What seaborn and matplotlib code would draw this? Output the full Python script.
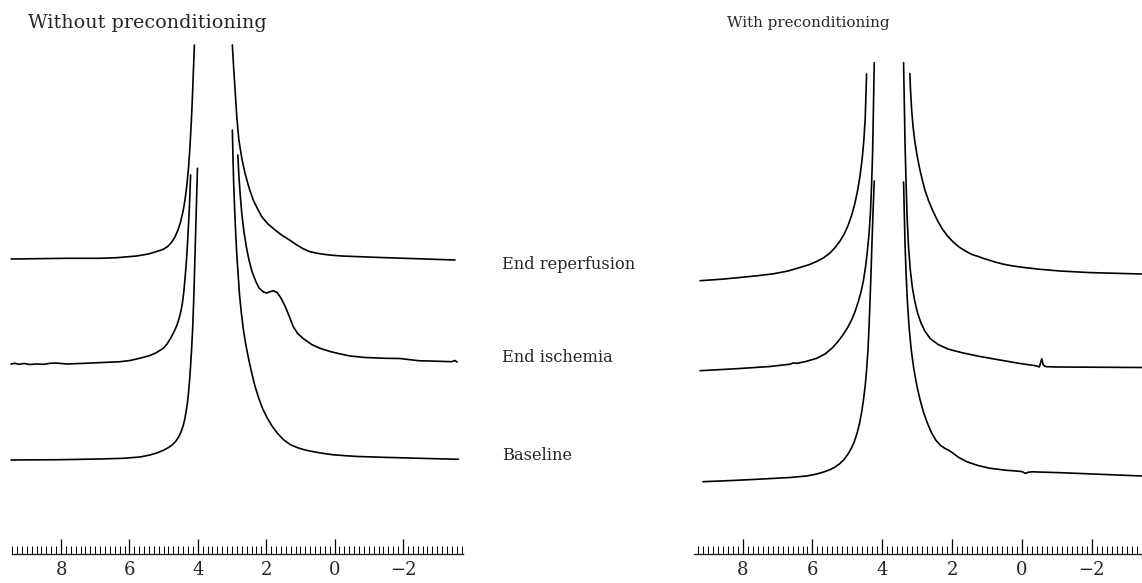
import numpy as np
import pandas as pd
import matplotlib
matplotlib.use("Agg")
import matplotlib.pyplot as plt
from matplotlib.ticker import MultipleLocator
import seaborn as sns

# --- 1H spectra (ppm vs intensity, a.u.), water line truncated at the top ---
# Each trace is stored as two flanks: downfield side (left) and upfield side (right).

# Without preconditioning
wo_reperf_left_ppm = [9.46, 7.83, 6.86, 6.37, 5.79, 5.45, 5.20, 5.01, 4.88, 4.77, 4.67, 4.58, 4.50, 4.43,
                      4.37, 4.32, 4.27, 4.23, 4.19, 4.16, 4.13, 4.10]
wo_reperf_left_int = [0, 0.7, 0.7, 1.3, 3, 5, 7.5, 9.7, 12.5, 16.5, 22, 29, 37.5, 48,
                      60, 74, 92, 112, 137, 160, 187, 214]
wo_reperf_right_ppm = [2.99, 2.95, 2.91, 2.86, 2.80, 2.71, 2.62, 2.50, 2.38, 2.25, 2.13, 1.95, 1.74, 1.55, 1.35,
                       1.10, 0.92, 0.75, 0.55, 0.38, 0.10, -0.21, -1.18, -3.52]
wo_reperf_right_int = [214, 190, 169, 142, 119, 100, 85.7, 71, 59, 50, 42.3, 35, 29, 24, 19.7,
                       13.9, 10.3, 7.6, 6, 5, 3.8, 3, 1.7, -1]

wo_isch_left_ppm = [9.46, 9.35, 9.23, 9.08, 8.91, 8.73, 8.50, 8.32, 8.15, 7.83, 7.30, 6.66, 6.27, 5.98, 5.79,
                    5.59, 5.40, 5.25, 5.11, 5.01, 4.90, 4.79, 4.70, 4.62, 4.56, 4.50, 4.45, 4.41, 4.37,
                    4.34, 4.31, 4.28, 4.25, 4.23, 4.21]
wo_isch_left_int = [-1, -0.3, -1.3, -0.5, -1.5, -1, -1.3, -0.3, 0, -1, -0.3, 0.7, 1.3, 2.5, 4,
                    5.7, 7.5, 9.7, 12.5, 14.7, 19, 25, 31, 37, 43, 51, 60, 71, 86,
                    99, 114, 133, 153, 170, 188]
wo_isch_right_ppm = [2.83, 2.80, 2.76, 2.71, 2.65, 2.58, 2.51, 2.42, 2.31, 2.21, 2.08, 1.99, 1.89, 1.79, 1.68,
                     1.57, 1.45, 1.33, 1.21, 1.08, 0.92, 0.67, 0.43, 0.13, -0.11, -0.45, -0.89, -1.47, -1.91,
                     -2.45, -3.08, -3.42, -3.52, -3.58]
wo_isch_right_int = [208, 188, 168, 148, 131, 116, 104, 92, 82, 75, 71, 70, 71.3, 72.2, 70.5,
                     65, 57, 47, 36.3, 29.5, 24.5, 18.5, 14.7, 11.5, 9.5, 7, 5.5, 4.7, 4.5,
                     2.3, 1.7, 1.3, 2.5, 1]

wo_base_left_ppm = [9.46, 8.03, 6.90, 6.18, 5.69, 5.40, 5.20, 5.02, 4.88, 4.75, 4.65, 4.56, 4.49, 4.43,
                    4.38, 4.34, 4.30, 4.27, 4.24, 4.21, 4.18, 4.15, 4.12, 4.09, 4.06, 4.03, 4.01]
wo_base_left_int = [0, 0.3, 1.0, 1.7, 3, 5, 7, 9.5, 12, 15, 18.5, 23, 28, 34,
                    41, 49, 58, 68, 80, 95, 112, 132, 160, 195, 232, 268, 291.7]
wo_base_right_ppm = [2.99, 2.97, 2.95, 2.92, 2.89, 2.86, 2.82, 2.78, 2.73, 2.67, 2.60, 2.52, 2.43, 2.33, 2.22,
                     2.10, 1.97, 1.83, 1.68, 1.50, 1.30, 1.10, 0.92, 0.70, 0.49, 0.25, 0.04, -0.35, -0.69,
                     -1.42, -2.50, -3.62]
wo_base_right_int = [330, 300, 275, 248, 225, 205, 185, 165, 148, 131, 116, 102, 88, 74, 62,
                     51, 42, 34, 27, 20.5, 15.5, 12.5, 10.5, 8.8, 7.5, 6.2, 5.2, 4.2, 3.5,
                     2.7, 1.7, 0.7]

# With preconditioning
w_reperf_left_ppm = [9.22, 8.60, 8.08, 7.60, 7.12, 6.70, 6.36, 6.10, 5.88, 5.68, 5.50, 5.35, 5.21, 5.09,
                     4.98, 4.88, 4.79, 4.71, 4.64, 4.58, 4.53, 4.49, 4.47, 4.45]
w_reperf_left_int = [0.3, 1.8, 3.5, 5.2, 7.2, 10, 13.5, 16.3, 19.5, 23.3, 28, 33.5, 40, 47,
                     55.5, 65.5, 77, 90, 104.5, 121, 140, 162, 184, 207]
w_reperf_right_ppm = [3.21, 3.19, 3.16, 3.12, 3.07, 3.01, 2.94, 2.86, 2.77, 2.67, 2.55, 2.42, 2.28, 2.13,
                      1.97, 1.80, 1.62, 1.43, 1.25, 1.11, 0.95, 0.77, 0.53, 0.30, 0.05, -0.52, -1.09,
                      -1.95, -3.43]
w_reperf_right_int = [207.5, 190, 172, 155, 140, 127, 114, 102, 90, 80, 70, 60.5, 52, 45,
                      39, 34, 30, 26.5, 24.5, 22.7, 21, 19, 16.8, 15.3, 14, 11.7, 10,
                      8.4, 7]

w_isch_left_ppm = [9.22, 8.08, 7.22, 6.64, 6.56, 6.44, 6.19, 5.88, 5.64, 5.45, 5.28, 5.13, 5.00, 4.88,
                   4.78, 4.69, 4.61, 4.54, 4.48, 4.43, 4.38, 4.34, 4.31, 4.28, 4.26, 4.245, 4.23]
w_isch_left_int = [0.3, 2.5, 4.5, 6.8, 8, 7.7, 9.5, 12.7, 17, 22.5, 29, 36, 43, 51,
                   59.5, 69, 79, 90.5, 104, 119, 137, 158, 183, 215, 250, 280, 308.3]
w_isch_right_ppm = [3.39, 3.37, 3.35, 3.32, 3.29, 3.25, 3.20, 3.14, 3.07, 2.99, 2.89, 2.78, 2.63, 2.40,
                    2.12, 1.72, 1.20, 0.63, 0.05, -0.35, -0.46, -0.50, -0.53, -0.57, -0.61, -0.66, -0.72,
                    -1.00, -3.44]
w_isch_right_int = [308.3, 270, 230, 190, 155, 125, 102, 84, 70, 58, 48, 40, 32.5, 26.5,
                    22, 18.3, 14.5, 11, 7.5, 5.5, 4.7, 4.0, 7.5, 12.2, 6.5, 4.6, 4.3,
                    4, 3.5]

w_base_left_ppm = [9.14, 8.30, 7.60, 6.64, 6.17, 5.90, 5.68, 5.50, 5.35, 5.22, 5.10, 4.99, 4.89, 4.80,
                   4.72, 4.65, 4.59, 4.54, 4.49, 4.45, 4.41, 4.38, 4.35, 4.32, 4.29, 4.26, 4.23]
w_base_left_int = [0.3, 1.5, 2.7, 4.5, 6, 7.8, 10, 12.3, 15, 18.3, 22.3, 27.5, 33.5, 40.5,
                   49, 59, 70, 82, 96, 112, 132, 155, 182, 212, 245, 275, 301]
w_base_right_ppm = [3.39, 3.37, 3.35, 3.32, 3.28, 3.23, 3.17, 3.10, 3.02, 2.93, 2.83, 2.72, 2.60, 2.47,
                    2.33, 2.20, 2.11, 2.00, 1.83, 1.58, 1.26, 0.91, 0.44, 0.05, -0.03, -0.10, -0.17,
                    -0.29, -1.19, -2.24, -3.44]
w_base_right_int = [300, 270, 240, 210, 180, 154, 132, 114, 98, 84, 71, 60, 50, 42,
                    36.5, 33.5, 32, 29.5, 25, 20.3, 16.5, 13.7, 11.7, 10.7, 10, 8.5, 9.7,
                    10.2, 9.2, 7.7, 6]

# vertical stacking offsets of the three traces (a.u.)
wo_offsets = {"End reperfusion": 295, "End ischemia": 191, "Baseline": 94}
w_offsets = {"End reperfusion": 273, "End ischemia": 183, "Baseline": 72}

panel_titles = ["Without preconditioning", "With preconditioning"]
trace_labels = ["End reperfusion", "End ischemia", "Baseline"]
tick_values = [8, 6, 4, 2, 0, -2]
tick_labels = ["8", "6", "4", "2", "0", "\u22122"]

segments = {
    "wo": {
        "End reperfusion": [(wo_reperf_left_ppm, wo_reperf_left_int), (wo_reperf_right_ppm, wo_reperf_right_int)],
        "End ischemia": [(wo_isch_left_ppm, wo_isch_left_int), (wo_isch_right_ppm, wo_isch_right_int)],
        "Baseline": [(wo_base_left_ppm, wo_base_left_int), (wo_base_right_ppm, wo_base_right_int)],
    },
    "w": {
        "End reperfusion": [(w_reperf_left_ppm, w_reperf_left_int), (w_reperf_right_ppm, w_reperf_right_int)],
        "End ischemia": [(w_isch_left_ppm, w_isch_left_int), (w_isch_right_ppm, w_isch_right_int)],
        "Baseline": [(w_base_left_ppm, w_base_left_int), (w_base_right_ppm, w_base_right_int)],
    },
}
offsets = {"wo": wo_offsets, "w": w_offsets}


def build_frame(panel):
    rows = []
    for trace, parts in segments[panel].items():
        for side, (ppm, inten) in zip(["left", "right"], parts):
            for p, v in zip(ppm, inten):
                rows.append({"segment": f"{trace}-{side}", "ppm": p,
                             "height": v + offsets[panel][trace]})
    return pd.DataFrame(rows)


sns.set_style("white")
plt.rcParams["font.family"] = ["DejaVu Serif"]

W, H = 1142, 583
fig = plt.figure(figsize=(W / 100, H / 100), dpi=100)

axes_px = {"wo": (12, 451, (9.433, -3.754)), "w": (694, 447, (9.395, -3.413))}
y_ruler = 554

for panel in ["wo", "w"]:
    x0, wpx, xlim = axes_px[panel]
    ax = fig.add_axes([x0 / W, (H - y_ruler) / H, wpx / W, y_ruler / H])
    df = build_frame(panel)
    sns.lineplot(data=df, x="ppm", y="height", units="segment", estimator=None,
                 sort=False, color="black", linewidth=1.2, legend=False, ax=ax)
    for line in ax.get_lines():
        line.set_clip_on(False)
        line.set_solid_joinstyle("round")
    ax.set_xlim(*xlim)
    ax.set_ylim(0, y_ruler)
    for s in ["top", "left", "right"]:
        ax.spines[s].set_visible(False)
    ax.spines["bottom"].set_linewidth(1.0)
    ax.set_yticks([])
    ax.set_xlabel("")
    ax.set_ylabel("")
    ax.xaxis.set_minor_locator(MultipleLocator(1 / 7))
    ax.set_xticks(tick_values)
    ax.set_xticklabels(tick_labels)
    ax.tick_params(axis="x", which="both", bottom=True, top=False, direction="in", color="black")
    ax.tick_params(axis="x", which="major", length=11, width=0.9, labelsize=13, pad=5)
    ax.tick_params(axis="x", which="minor", length=5.5, width=0.7)
    ax.patch.set_alpha(0)

fig.text(28 / W, 1 - 27.5 / H, panel_titles[0], fontsize=13.8, va="baseline", ha="left")
fig.text(727 / W, 1 - 27.5 / H, panel_titles[1], fontsize=10.9, va="baseline", ha="left")

label_baselines = [269, 362, 460]
for lab, yb in zip(trace_labels, label_baselines):
    fig.text(502 / W, 1 - yb / H, lab, fontsize=11.7, va="baseline", ha="left")

fig.savefig("out.png", dpi=100, facecolor="white")
